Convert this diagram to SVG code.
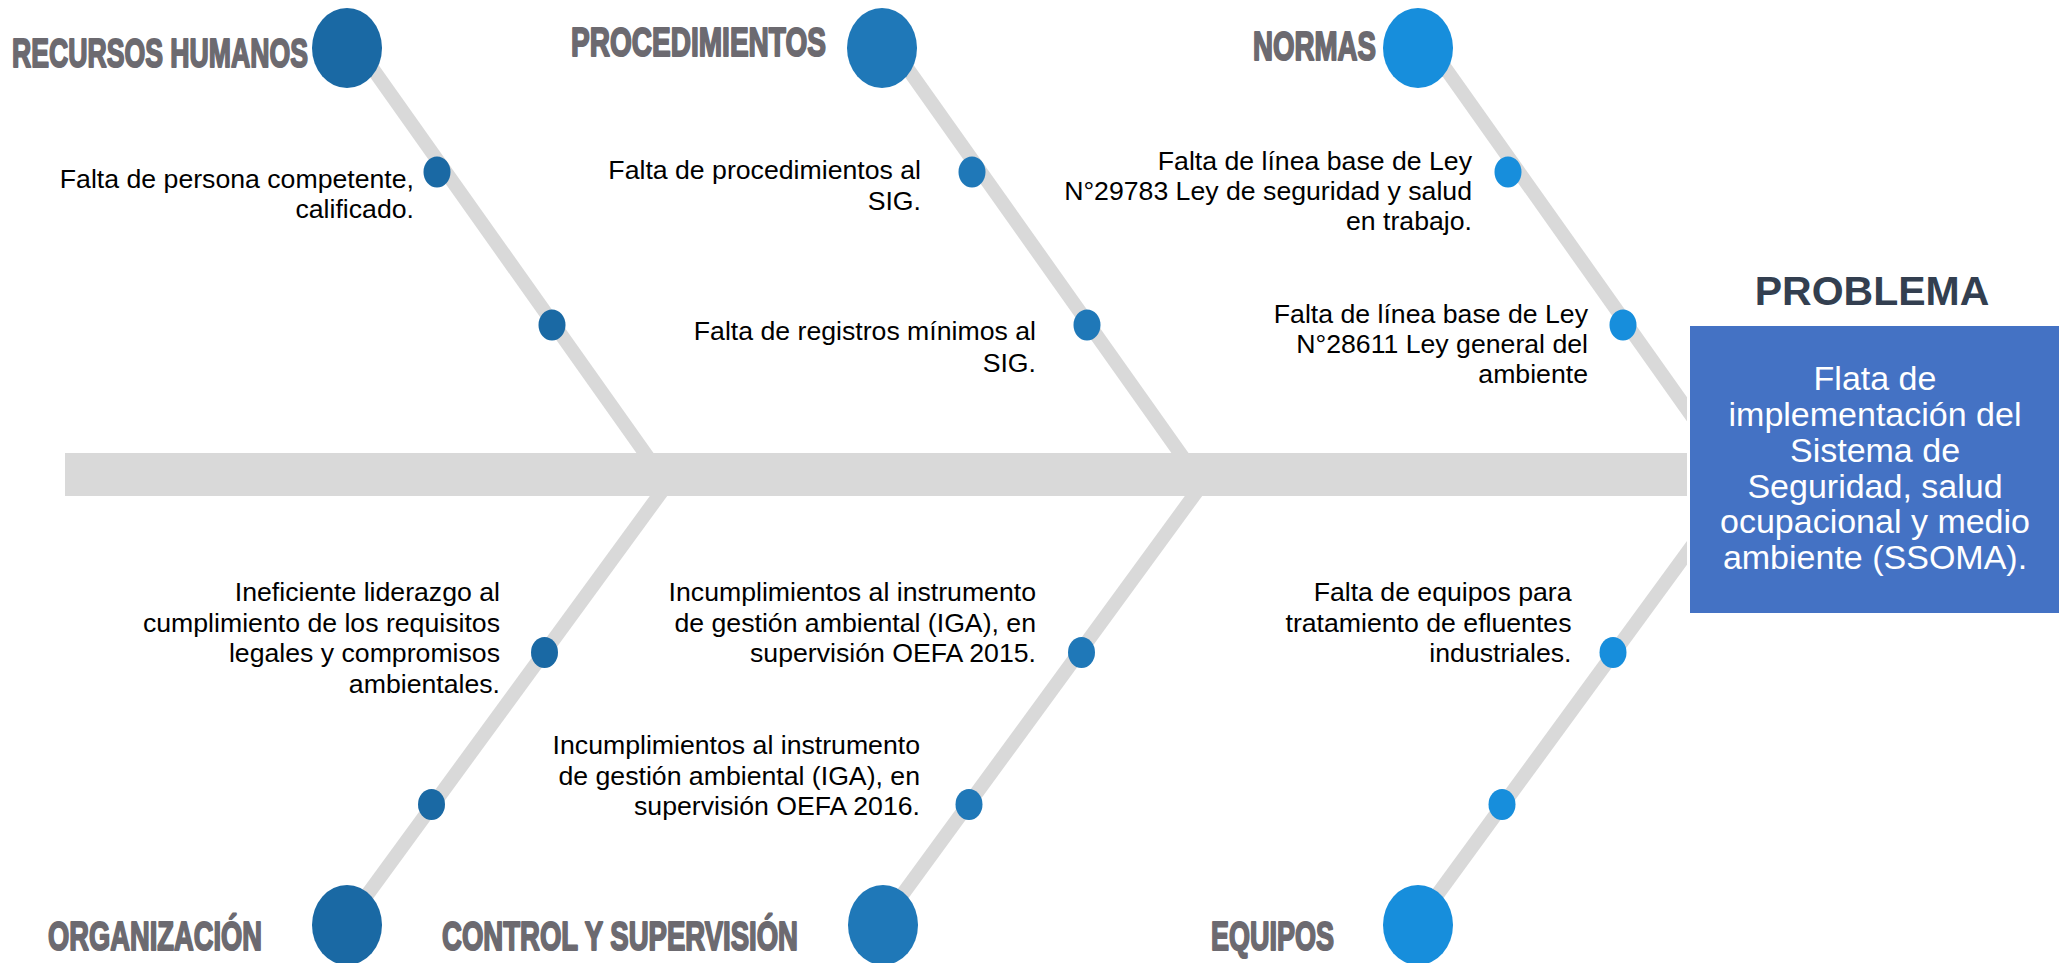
<svg xmlns="http://www.w3.org/2000/svg" width="2067" height="963" viewBox="0 0 2067 963">
<style>
.bone{stroke:#D9D9D9;stroke-width:14;fill:none}
.hdr{font-family:"Liberation Sans",Arial,sans-serif;font-weight:bold;font-size:41px;fill:#6C6A70;stroke:#6C6A70;stroke-width:2;stroke-linejoin:round}
.txt{font-family:"Liberation Sans",Arial,sans-serif;font-size:26.67px;fill:#000;text-anchor:end}
.box{font-family:"Liberation Sans",Arial,sans-serif;font-size:34px;fill:#fff;text-anchor:middle}
.c1{fill:#1A69A4}.c2{fill:#1F78B8}.c3{fill:#178EDC}
</style>
<rect width="2067" height="963" fill="#fff"/>
<g id="connectors">
<line class="bone" x1="358" y1="48" x2="657" y2="470"/>
<line class="bone" x1="893" y1="48" x2="1192" y2="470"/>
<line class="bone" x1="1431" y1="48" x2="1730" y2="470"/>
<line class="bone" x1="677.5" y1="470" x2="341.5" y2="930"/>
<line class="bone" x1="1212.5" y1="470" x2="876.5" y2="930"/>
<line class="bone" x1="1747.5" y1="470" x2="1411.5" y2="930"/>
<rect id="spine" x="65" y="453" width="1622" height="43" fill="#D9D9D9"/>
</g>
<g id="rh">
<ellipse class="c1" cx="347" cy="48" rx="35" ry="40"/>
<text class="hdr" x="12" y="67" textLength="296" lengthAdjust="spacingAndGlyphs">RECURSOS HUMANOS</text>
</g>
<g id="proc">
<ellipse class="c2" cx="882" cy="48" rx="35" ry="40"/>
<text class="hdr" x="571" y="56" textLength="255" lengthAdjust="spacingAndGlyphs">PROCEDIMIENTOS</text>
</g>
<g id="normas">
<ellipse class="c3" cx="1418" cy="48" rx="35" ry="40"/>
<text class="hdr" x="1253" y="60" textLength="123" lengthAdjust="spacingAndGlyphs">NORMAS</text>
</g>
<g id="org">
<ellipse class="c1" cx="347" cy="925" rx="35" ry="40"/>
<text class="hdr" x="48" y="950" textLength="214" lengthAdjust="spacingAndGlyphs">ORGANIZACIÓN</text>
</g>
<g id="ctrl">
<ellipse class="c2" cx="883" cy="925" rx="35" ry="40"/>
<text class="hdr" x="442" y="950" textLength="356" lengthAdjust="spacingAndGlyphs">CONTROL Y SUPERVISIÓN</text>
</g>
<g id="equipos">
<ellipse class="c3" cx="1418" cy="925" rx="35" ry="40"/>
<text class="hdr" x="1211" y="950" textLength="123" lengthAdjust="spacingAndGlyphs">EQUIPOS</text>
</g>
<g id="rh1">
<ellipse class="c1" cx="437" cy="172" rx="13.5" ry="15.5"/>
<text class="txt"><tspan x="414" y="188">Falta de persona competente,</tspan><tspan x="414" y="218">calificado.</tspan></text>
</g>
<g id="rh2">
<ellipse class="c1" cx="552" cy="325" rx="13.5" ry="15.5"/>
</g>
<g id="proc1">
<ellipse class="c2" cx="972" cy="172" rx="13.5" ry="15.5"/>
<text class="txt"><tspan x="921" y="179">Falta de procedimientos al</tspan><tspan x="921" y="210">SIG.</tspan></text>
</g>
<g id="proc2">
<ellipse class="c2" cx="1087" cy="325" rx="13.5" ry="15.5"/>
<text class="txt"><tspan x="1036" y="340">Falta de registros mínimos al</tspan><tspan x="1036" y="371.5">SIG.</tspan></text>
</g>
<g id="norm1">
<ellipse class="c3" cx="1508" cy="172" rx="13.5" ry="15.5"/>
<text class="txt"><tspan x="1472" y="170">Falta de línea base de Ley</tspan><tspan x="1472" y="200">N°29783 Ley de seguridad y salud</tspan><tspan x="1472" y="230">en trabajo.</tspan></text>
</g>
<g id="norm2">
<ellipse class="c3" cx="1623" cy="325" rx="13.5" ry="15.5"/>
<text class="txt"><tspan x="1588" y="323">Falta de línea base de Ley</tspan><tspan x="1588" y="353">N°28611 Ley general del</tspan><tspan x="1588" y="383">ambiente</tspan></text>
</g>
<g id="org1">
<ellipse class="c1" cx="544.5" cy="652.5" rx="13.5" ry="15.5"/>
<text class="txt"><tspan x="500" y="601">Ineficiente liderazgo al</tspan><tspan x="500" y="631.5">cumplimiento de los requisitos</tspan><tspan x="500" y="662">legales y compromisos</tspan><tspan x="500" y="692.5">ambientales.</tspan></text>
</g>
<g id="org2">
<ellipse class="c1" cx="431.5" cy="804.5" rx="13.5" ry="15.5"/>
</g>
<g id="ctrl1">
<ellipse class="c2" cx="1081.5" cy="652.5" rx="13.5" ry="15.5"/>
<text class="txt"><tspan x="1036" y="601">Incumplimientos al instrumento</tspan><tspan x="1036" y="631.5">de gestión ambiental (IGA), en</tspan><tspan x="1036" y="662">supervisión OEFA 2015.</tspan></text>
</g>
<g id="ctrl2">
<ellipse class="c2" cx="969" cy="804.5" rx="13.5" ry="15.5"/>
<text class="txt"><tspan x="920" y="754">Incumplimientos al instrumento</tspan><tspan x="920" y="784.5">de gestión ambiental (IGA), en</tspan><tspan x="920" y="815">supervisión OEFA 2016.</tspan></text>
</g>
<g id="eq1">
<ellipse class="c3" cx="1613" cy="652.5" rx="13.5" ry="15.5"/>
<text class="txt"><tspan x="1571.5" y="601">Falta de equipos para</tspan><tspan x="1571.5" y="631.5">tratamiento de efluentes</tspan><tspan x="1571.5" y="662">industriales.</tspan></text>
</g>
<g id="eq2">
<ellipse class="c3" cx="1502" cy="804.5" rx="13.5" ry="15.5"/>
</g>
<g id="problema">
<text x="1872" y="305" text-anchor="middle" font-family="Liberation Sans, Arial, sans-serif" font-weight="bold" font-size="41" fill="#333F50">PROBLEMA</text>
<rect x="1688.5" y="324.5" width="372" height="290" fill="#4472C4" stroke="#fff" stroke-width="3"/>
<text class="box"><tspan x="1875" y="390">Flata de</tspan><tspan x="1875" y="426">implementación del</tspan><tspan x="1875" y="462">Sistema de</tspan><tspan x="1875" y="497.5">Seguridad, salud</tspan><tspan x="1875" y="533">ocupacional y medio</tspan><tspan x="1875" y="569">ambiente (SSOMA).</tspan></text>
</g>
</svg>
